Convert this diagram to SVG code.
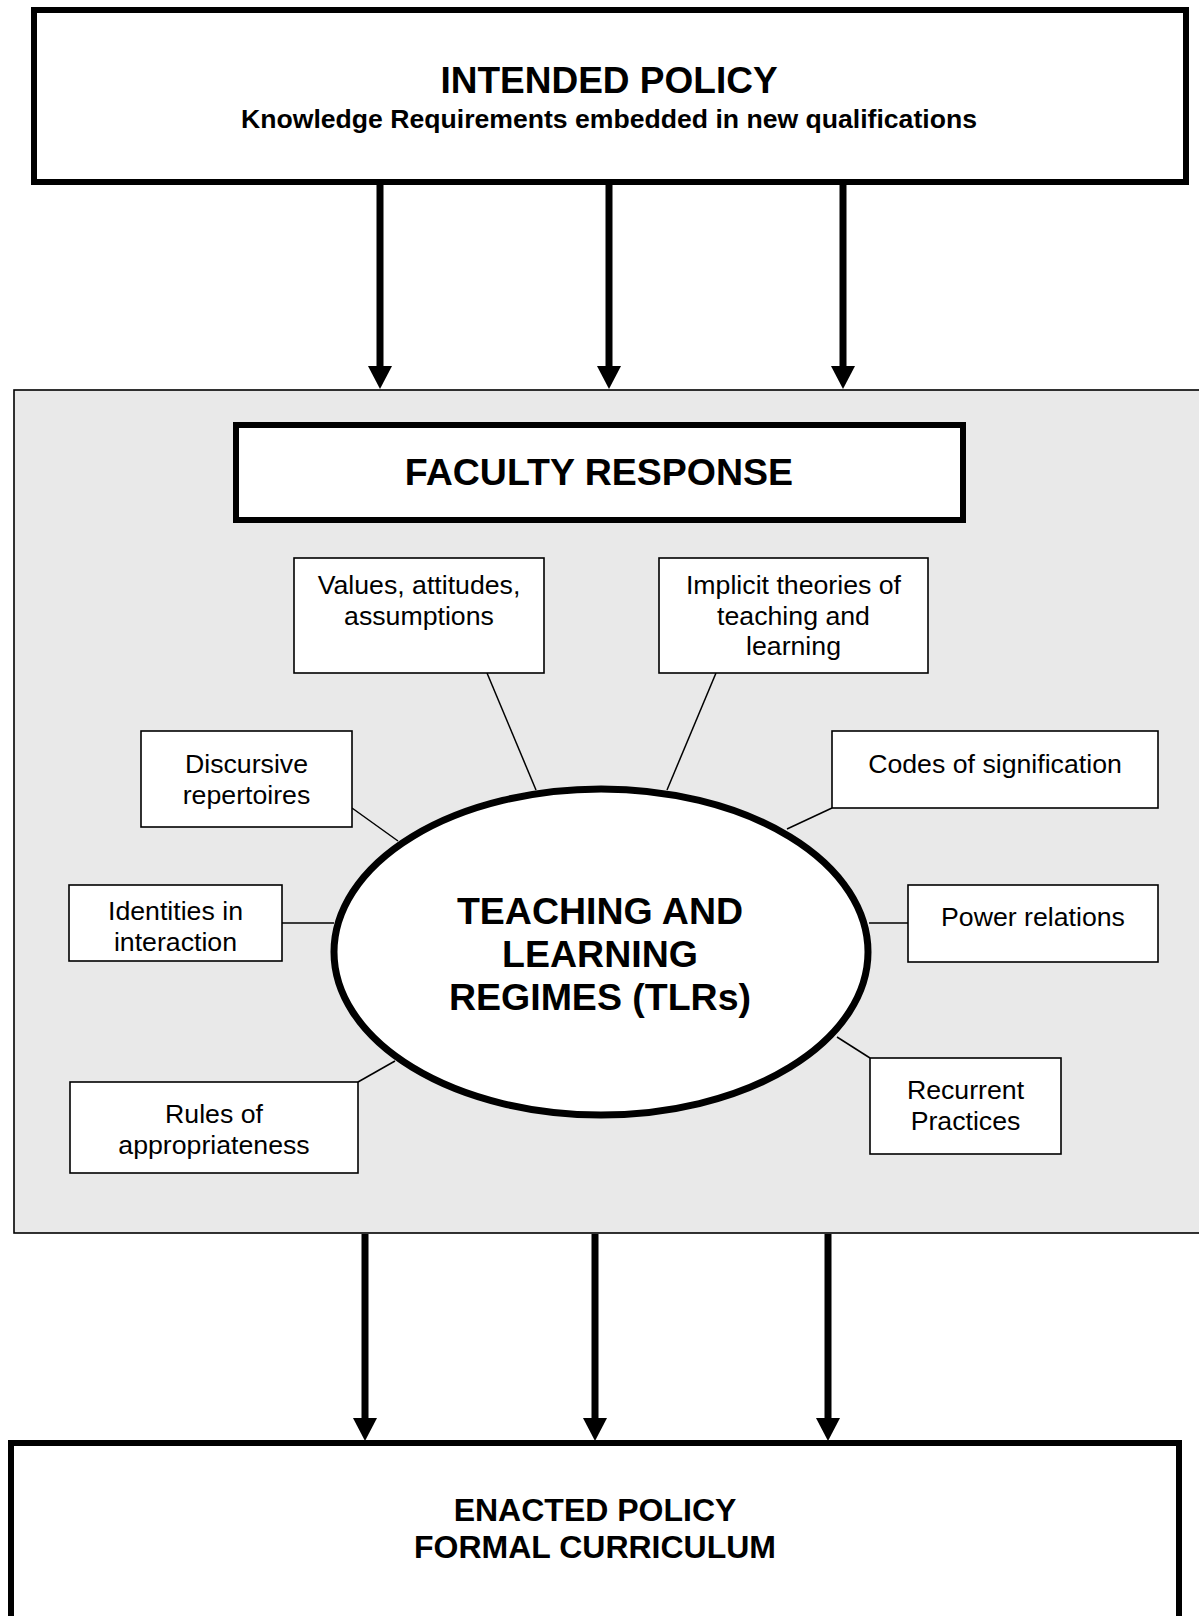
<svg xmlns="http://www.w3.org/2000/svg" width="1199" height="1616" viewBox="0 0 1199 1616">
<style>
text{font-family:"Liberation Sans",Arial,sans-serif;fill:#000;text-anchor:middle}
.title{font-size:37.5px;font-weight:bold}
.sub{font-size:26.6px;font-weight:bold}
.lbl{font-size:26.7px}
.thick{fill:#fff;stroke:#000;stroke-width:6}
.box{fill:#fff;stroke:#000;stroke-width:1.6}
.conn{stroke:#000;stroke-width:1.5;fill:none}
.arr{stroke:#000;stroke-width:7;fill:none;marker-end:url(#ah)}
</style>
<defs>
<marker id="ah" viewBox="0 0 23 24" refX="0" refY="12" markerWidth="23" markerHeight="24" markerUnits="userSpaceOnUse" orient="auto">
<path d="M0,0 L23,12 L0,24 Z" fill="#000"/>
</marker>
</defs>
<rect id="panel" x="14" y="390" width="1200" height="843" fill="#e9e9e9" stroke="#000" stroke-width="1.6"/>
<g id="connectors">
<line class="arr" x1="380" y1="185" x2="380" y2="366"/>
<line class="arr" x1="609" y1="185" x2="609" y2="366"/>
<line class="arr" x1="843" y1="185" x2="843" y2="366"/>
<line class="arr" x1="365" y1="1234" x2="365" y2="1418"/>
<line class="arr" x1="595" y1="1234" x2="595" y2="1418"/>
<line class="arr" x1="828" y1="1234" x2="828" y2="1418"/>
<line class="conn" x1="487" y1="673" x2="536" y2="790"/>
<line class="conn" x1="716" y1="673" x2="667" y2="790"/>
<line class="conn" x1="352" y1="808" x2="398" y2="841"/>
<line class="conn" x1="832" y1="808" x2="787" y2="829"/>
<line class="conn" x1="282" y1="923" x2="334" y2="923"/>
<line class="conn" x1="869" y1="923" x2="908" y2="923"/>
<line class="conn" x1="358" y1="1082" x2="395" y2="1061"/>
<line class="conn" x1="870" y1="1058" x2="837" y2="1037"/>
</g>
<g id="intended">
<rect class="thick" x="34" y="10" width="1152" height="172"/>
<text class="title" x="609" y="93" style="font-size:37px">INTENDED POLICY</text>
<text class="sub" x="609" y="128">Knowledge Requirements embedded in new qualifications</text>
</g>
<g id="faculty">
<rect class="thick" x="236" y="425" width="727" height="95" stroke-width="5"/>
<text class="title" x="599" y="485">FACULTY RESPONSE</text>
</g>
<g id="values">
<rect class="box" x="294" y="558" width="250" height="115"/>
<text class="lbl" x="419" y="594">Values, attitudes,</text>
<text class="lbl" x="419" y="625">assumptions</text>
</g>
<g id="implicit">
<rect class="box" x="659" y="558" width="269" height="115"/>
<text class="lbl" x="793.5" y="594">Implicit theories of</text>
<text class="lbl" x="793.5" y="625">teaching and</text>
<text class="lbl" x="793.5" y="655">learning</text>
</g>
<g id="discursive">
<rect class="box" x="141" y="731" width="211" height="96"/>
<text class="lbl" x="246.5" y="773">Discursive</text>
<text class="lbl" x="246.5" y="804">repertoires</text>
</g>
<g id="codes">
<rect class="box" x="832" y="731" width="326" height="77"/>
<text class="lbl" x="995" y="773">Codes of signification</text>
</g>
<g id="identities">
<rect class="box" x="69" y="885" width="213" height="76"/>
<text class="lbl" x="175.5" y="920">Identities in</text>
<text class="lbl" x="175.5" y="951">interaction</text>
</g>
<g id="power">
<rect class="box" x="908" y="885" width="250" height="77"/>
<text class="lbl" x="1033" y="926">Power relations</text>
</g>
<g id="rules">
<rect class="box" x="70" y="1082" width="288" height="91"/>
<text class="lbl" x="214" y="1123">Rules of</text>
<text class="lbl" x="214" y="1154">appropriateness</text>
</g>
<g id="recurrent">
<rect class="box" x="870" y="1058" width="191" height="96"/>
<text class="lbl" x="965.5" y="1099">Recurrent</text>
<text class="lbl" x="965.5" y="1130">Practices</text>
</g>
<g id="tlr">
<ellipse cx="601" cy="952" rx="267" ry="163" fill="#fff" stroke="#000" stroke-width="7"/>
<text class="title" x="600" y="924">TEACHING AND</text>
<text class="title" x="600" y="967">LEARNING</text>
<text class="title" x="600" y="1010">REGIMES (TLRs)</text>
</g>
<g id="enacted">
<rect class="thick" x="11" y="1443" width="1168" height="300"/>
<text class="title" x="595" y="1521" style="font-size:32px">ENACTED POLICY</text>
<text class="title" x="595" y="1558" style="font-size:32px">FORMAL CURRICULUM</text>
</g>
</svg>
